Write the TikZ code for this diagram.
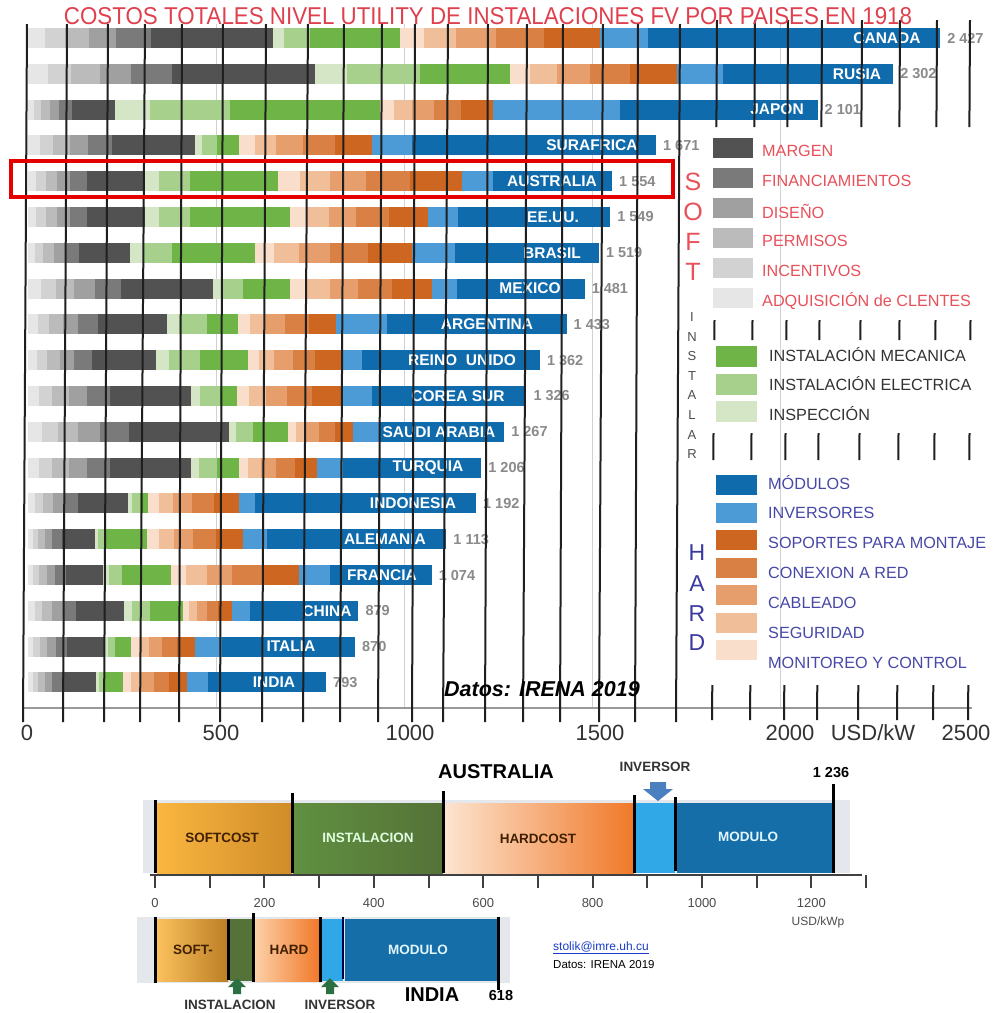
\documentclass[tikz,border=0pt]{standalone}
\usepackage{fontspec}
\setmainfont{Liberation Sans}
\usepackage{graphicx}
\definecolor{ga}{HTML}{E6E6E6}
\definecolor{gb}{HTML}{D2D2D2}
\definecolor{gc}{HTML}{BBBBBB}
\definecolor{gd}{HTML}{A0A0A0}
\definecolor{ge}{HTML}{7A7A7A}
\definecolor{gf}{HTML}{525252}
\definecolor{gpale}{HTML}{D5E6C6}
\definecolor{glight}{HTML}{A8D08D}
\definecolor{gmid}{HTML}{6FB446}
\definecolor{oa}{HTML}{F9DFCB}
\definecolor{ob}{HTML}{F0BE98}
\definecolor{oc}{HTML}{E59E6C}
\definecolor{od}{HTML}{D98044}
\definecolor{oe}{HTML}{CC6620}
\definecolor{binv}{HTML}{4C9BD6}
\definecolor{bmod}{HTML}{106BAC}
\definecolor{titred}{HTML}{E0404E}
\definecolor{legred}{HTML}{E8505A}
\definecolor{legblue}{HTML}{4848A8}
\definecolor{hardblue}{HTML}{3A3AA0}
\definecolor{valgray}{HTML}{8A8A8A}
\definecolor{bgstrip}{HTML}{E4E7EB}
\definecolor{softA}{HTML}{FAB640}
\definecolor{softB}{HTML}{D08C28}
\definecolor{instA}{HTML}{609040}
\definecolor{instB}{HTML}{557238}
\definecolor{hardA}{HTML}{FCE4D0}
\definecolor{hardB}{HTML}{F07828}
\definecolor{invB}{HTML}{30A8E8}
\definecolor{modB}{HTML}{156EA8}
\definecolor{arrblue}{HTML}{4A80C0}
\definecolor{arrgreen}{HTML}{2A7040}
\definecolor{mailblue}{HTML}{1A3CC8}
\newcommand\cbar[7]{%
 \pgfmathsetmacro\cya{#1-10}%
 \pgfmathsetmacro\cyb{#1+10}%
 \pgfmathsetmacro\cgw{#2-28}%
 \pgfmathsetmacro\cT{28+0.3758*#7}%
 \pgfmathsetmacro\cgl{#2+0.3*(#3-#2)}%
 \pgfmathsetmacro\cow{#5-#4}%
 \fill[ga] (28,\cya) rectangle ({28+0.07*\cgw},\cyb);
 \fill[gb] ({28+0.07*\cgw},\cya) rectangle ({28+0.15*\cgw},\cyb);
 \fill[gc] ({28+0.15*\cgw},\cya) rectangle ({28+0.25*\cgw},\cyb);
 \fill[gd] ({28+0.25*\cgw},\cya) rectangle ({28+0.36*\cgw},\cyb);
 \fill[ge] ({28+0.36*\cgw},\cya) rectangle ({28+0.50*\cgw},\cyb);
 \fill[gf] ({28+0.50*\cgw},\cya) rectangle (#2,\cyb);
 \fill[gpale] (#2,\cya) rectangle (\cgl,\cyb);
 \fill[glight] (\cgl,\cya) rectangle (#3,\cyb);
 \fill[gmid] (#3,\cya) rectangle (#4,\cyb);
 \fill[oa] (#4,\cya) rectangle ({#4+0.12*\cow},\cyb);
 \fill[ob] ({#4+0.12*\cow},\cya) rectangle ({#4+0.28*\cow},\cyb);
 \fill[oc] ({#4+0.28*\cow},\cya) rectangle ({#4+0.48*\cow},\cyb);
 \fill[od] ({#4+0.48*\cow},\cya) rectangle ({#4+0.72*\cow},\cyb);
 \fill[oe] ({#4+0.72*\cow},\cya) rectangle (#5,\cyb);
 \fill[binv] (#5,\cya) rectangle (#6,\cyb);
 \fill[bmod] (#6,\cya) rectangle (\cT,\cyb);
}
\tikzset{
 cl/.style={font=\fontsize{15.5}{18}\selectfont\bfseries, text=white, inner sep=0pt},
 vl/.style={font=\fontsize{14.5}{17}\selectfont\bfseries, text=valgray, anchor=west, inner sep=0pt},
 gl/.style={line width=2pt, black!88},
 axl/.style={font=\fontsize{22}{26}\selectfont, text=black!80, inner sep=0pt},
 lr/.style={font=\fontsize{16.2}{19}\selectfont, text=legred, anchor=west, inner sep=0pt},
 lg/.style={font=\fontsize{16.2}{19}\selectfont, text=black!80, anchor=west, inner sep=0pt},
 lb/.style={font=\fontsize{16.2}{19}\selectfont, text=legblue, anchor=west, inner sep=0pt},
 softl/.style={font=\fontsize{25}{28}\selectfont, text=legred, inner sep=0pt},
 hardl/.style={font=\fontsize{23}{26}\selectfont, text=hardblue, inner sep=0pt},
 instl/.style={font=\fontsize{13}{15}\selectfont, text=black!70, inner sep=0pt},
 sep/.style={line width=3pt, black},
 bt/.style={font=\fontsize{13.5}{16}\selectfont\bfseries, inner sep=0pt},
 bax/.style={font=\fontsize{13}{15}\selectfont, text=black!70, inner sep=0pt},
}
\begin{document}
\begin{tikzpicture}[x=1pt,y=-1pt]
\useasboundingbox (0,0) rectangle (1001,1013);
\fill[white] (0,0) rectangle (1001,1013);
% faint original gridlines
\foreach \gx in {216,404,592,780} \draw[line width=0.6pt, black!18] (\gx,24) -- (\gx,707);
% bars
\cbar{38}{273}{310}{400}{600}{648}{2427}
\cbar{73.8}{315}{420}{510}{677}{723}{2302}
\cbar{109.6}{115}{230}{380}{493}{620}{2101}
\cbar{145.4}{195}{217}{239}{372}{412}{1671}
\cbar{181.2}{145}{190}{278}{462}{493}{1554}
\cbar{217}{145}{190}{290}{428}{458}{1549}
\cbar{252.8}{130}{172}{255}{412}{455}{1519}
\cbar{288.6}{213}{243}{290}{432}{457}{1481}
\cbar{324.4}{167}{207}{238}{336}{387}{1433}
\cbar{360.2}{156}{200}{248}{341}{362}{1362}
\cbar{396}{191}{220}{237}{341}{372}{1326}
\cbar{431.8}{229}{253}{288}{353}{380}{1267}
\cbar{467.6}{191}{217}{239}{317}{343}{1206}
\cbar{503.4}{128}{140}{148}{239}{255}{1192}
\cbar{539.2}{95}{105}{147}{243}{267}{1113}
\cbar{575}{103}{122}{171}{299}{330}{1074}
\cbar{610.8}{124}{150}{183}{232}{250}{879}
\cbar{646.6}{105}{115}{131}{195}{222}{870}
\cbar{682.4}{96}{105}{123}{187}{208}{793}
% country labels
\node[cl] (n1) at (887,38) {CANADA};
\node[cl] (n2) at (857,73.8) {RUSIA};
\node[cl] (n3) at (777,109.6) {JAPON};
\node[cl] (n4) at (592,145.4) {SURAFRICA};
\node[cl] (n5) at (552,181.2) {AUSTRALIA};
\node[cl] (n6) at (553,217) {EE.UU.};
\node[cl] (n7) at (552,252.8) {BRASIL};
\node[cl] (n8) at (530,288.6) {MEXICO};
\node[cl] (n9) at (487,324.4) {ARGENTINA};
\node[cl] (n10) at (462,360.2) {REINO\ \ UNIDO};
\node[cl] (n11) at (458,396) {COREA SUR};
\node[cl] (n12) at (439,431.8) {SAUDI ARABIA};
\node[cl] (n13) at (428,467.6) {TURQUIA};
\node[cl] (n14) at (413,503.4) {INDONESIA};
\node[cl] (n15) at (385,539.2) {ALEMANIA};
\node[cl] (n16) at (382,575) {FRANCIA};
\node[cl] (n17) at (327,610.8) {CHINA};
\node[cl] (n18) at (291,646.6) {ITALIA};
\node[cl] (n19) at (274,682.4) {INDIA};
% value labels
\node[vl] (v1) at ({28+0.3758*2427+7},38) {2 427};
\node[vl] (v2) at ({28+0.3758*2302+7},73.8) {2 302};
\node[vl] (v3) at ({28+0.3758*2101+7},109.6) {2 101};
\node[vl] (v4) at ({28+0.3758*1671+7},145.4) {1 671};
\node[vl] (v5) at ({28+0.3758*1554+7},181.2) {1 554};
\node[vl] (v6) at ({28+0.3758*1549+7},217) {1 549};
\node[vl] (v7) at ({28+0.3758*1519+7},252.8) {1 519};
\node[vl] (v8) at ({28+0.3758*1481+7},288.6) {1 481};
\node[vl] (v9) at ({28+0.3758*1433+7},324.4) {1 433};
\node[vl] (v10) at ({28+0.3758*1362+7},360.2) {1 362};
\node[vl] (v11) at ({28+0.3758*1326+7},396) {1 326};
\node[vl] (v12) at ({28+0.3758*1267+7},431.8) {1 267};
\node[vl] (v13) at ({28+0.3758*1206+7},467.6) {1 206};
\node[vl] (v14) at ({28+0.3758*1192+7},503.4) {1 192};
\node[vl] (v15) at ({28+0.3758*1113+7},539.2) {1 113};
\node[vl] (v16) at ({28+0.3758*1074+7},575) {1 074};
\node[vl] (v17) at ({28+0.3758*879+7},610.8) {879};
\node[vl] (v18) at ({28+0.3758*870+7},646.6) {870};
\node[vl] (v19) at ({28+0.3758*793+7},682.4) {793};
% axis
\draw[line width=1.3pt, black!40] (23,708) -- (972,708);
\node[axl] (a0) at (27,733) {0};
\node[axl] (a500) at (221,733) {500};
\node[axl] (a1000) at (410,733) {1000};
\node[axl] (a1500) at (600,733) {1500};
\node[axl] (a2000) at (790,733) {2000};
\node[axl] (aunit) at (873,733) {USD/kW};
\node[axl] (a2500) at (966,733) {2500};
% black grid lines
\foreach \xt/\xb in {27/23,67/63,108/104,145/140,182/179,223/220,266/262,308/303,344/340,382/378,415/412,448/443,488/485,527/523,563/560,603/599,638/635,680/676}
  \draw[gl] (\xt,24) -- (\xb,722);
\foreach \xt/\xb in {717/712,755/750,788/784,822/817,862/858,900/897,937/933,970/968} {
  \draw[gl] (\xt,20) -- (\xt-0.6,127);
  \draw[gl] (\xb+2.5,320) -- (\xb+2.4,340);
  \draw[gl] (\xb+1.5,433) -- (\xb+1.4,460);
  \draw[gl] (\xb+0.3,685) -- (\xb,720);
}
% title
\node[inner sep=0pt] (title) at (488,16) {\resizebox{848pt}{17pt}{\color{titred}COSTOS TOTALES NIVEL UTILITY DE INSTALACIONES FV POR PAISES EN 1918}};
% highlight box
\draw[line width=4pt, red!90!black] (11,161) rectangle (673,197);
% Datos
\node[anchor=west, inner sep=0pt, font=\fontsize{21.5}{25}\selectfont\bfseries\itshape] (datos) at (444,689) {Datos: IRENA 2019};
% legend SOFT
\node[softl] (s1) at (693,182) {S};
\node[softl] (s2) at (693,212) {O};
\node[softl] (s3) at (693,242) {F};
\node[softl] (s4) at (693,272) {T};
\fill[gf] (713,138) rectangle (753,158);
\fill[ge] (713,168) rectangle (753,188);
\fill[gd] (713,198) rectangle (753,218);
\fill[gc] (713,228) rectangle (753,248);
\fill[gb] (713,258) rectangle (753,278);
\fill[ga] (713,288) rectangle (753,308);
\node[lr] (l1) at (762,151) {MARGEN};
\node[lr] (l2) at (762,181) {FINANCIAMIENTOS};
\node[lr] (l3) at (762,211) {DISEÑO};
\node[lr] (l4) at (762,241) {PERMISOS};
\node[lr] (l5) at (762,271) {INCENTIVOS};
\node[lr] (l6) at (762,301) {ADQUISICIÓN de CLENTES};
% legend INSTALAR
\foreach \ch [count=\k from 0] in {I,N,S,T,A,L,A,R}
  \node[instl] (i\k) at (692,{317+19.6*\k}) {\ch};
\fill[gmid] (716,346) rectangle (757,367);
\fill[glight] (716,374) rectangle (757,395);
\fill[gpale] (716,401) rectangle (757,422);
\node[lg] (g1) at (769,355) {INSTALACIÓN MECANICA};
\node[lg] (g2) at (769,384) {INSTALACIÓN ELECTRICA};
\node[lg] (g3) at (769,414) {INSPECCIÓN};
% legend HARD
\node[hardl] (h1) at (697,553) {H};
\node[hardl] (h2) at (697,584) {A};
\node[hardl] (h3) at (697,614) {R};
\node[hardl] (h4) at (697,643) {D};
\fill[bmod] (716,475) rectangle (757,495);
\fill[binv] (716,503) rectangle (757,523);
\fill[oe] (716,530) rectangle (757,550);
\fill[od] (716,558) rectangle (757,578);
\fill[oc] (716,585) rectangle (757,605);
\fill[ob] (716,613) rectangle (757,633);
\fill[oa] (716,640) rectangle (757,660);
\node[lb] (b1) at (768,483) {MÓDULOS};
\node[lb] (b2) at (768,513) {INVERSORES};
\node[lb] (b3) at (768,543) {SOPORTES PARA MONTAJE};
\node[lb] (b4) at (768,573) {CONEXION A RED};
\node[lb] (b5) at (768,603) {CABLEADO};
\node[lb] (b6) at (768,633) {SEGURIDAD};
\node[lb] (b7) at (768,663) {MONITOREO Y CONTROL};
% ===== Australia bottom chart =====
\node[font=\fontsize{20}{24}\selectfont\bfseries, inner sep=0pt] (aut) at (496,772) {AUSTRALIA};
\fill[bgstrip] (143,800) rectangle (850,873);
\shade[left color=softA, right color=softB] (157,803) rectangle (292,873);
\shade[left color=instA, right color=instB] (293,803) rectangle (443,873);
\shade[left color=hardA, right color=hardB] (445,803) rectangle (634,873);
\fill[invB] (636,803) rectangle (675,873);
\fill[modB] (677,803) rectangle (833,873);
\draw[sep] (155,800) -- (155,873);
\draw[sep] (292,793) -- (292,873);
\draw[sep] (443,791) -- (443,873);
\draw[sep] (634,795) -- (634,873);
\draw[sep] (675,797) -- (675,871);
\draw[sep] (833,784) -- (833,873);
\node[bt, text=black!75!orange] (ausoft) at (222,838) {SOFTCOST};
\node[bt, text=green!12!white] (auinst) at (368,838) {INSTALACION};
\node[bt, text=black!75!orange] (auhard) at (538,839) {HARDCOST};
\node[bt, text=cyan!12!white] (aumod) at (748,837) {MODULO};
\node[bt, text=black!80] (auinv) at (655,767) {INVERSOR};
\node[font=\fontsize{14.5}{17}\selectfont\bfseries, inner sep=0pt] (autot) at (831,773) {1 236};
\fill[arrblue] (650,782) -- (666,782) -- (666,789) -- (673,789) -- (658,801) -- (643,789) -- (650,789) -- cycle;
\draw[line width=1.5pt, black!75] (150,875) -- (862,875);
\foreach \k in {0,...,13} \draw[line width=2pt, black!75] ({155+54.7*\k},875) -- ({155+54.7*\k},888);
\foreach \v [count=\k from 0] in {0,200,400,600,800,1000,1200}
  \node[bax] (bx\k) at ({155+109.4*\k},903) {\v};
\node[bax, font=\fontsize{12}{14}\selectfont] (bunit) at (818,922) {USD/kWp};
% ===== India bottom chart =====
\fill[bgstrip] (137,917) rectangle (510,983);
\shade[left color=softA!85!white, right color=softB!90!black] (157,919) rectangle (228,981);
\fill[instB] (230,919) rectangle (253,981);
\shade[left color=hardA!80!orange, right color=hardB] (255,919) rectangle (320,981);
\fill[invB] (322,919) rectangle (343,981);
\fill[modB] (345,919) rectangle (498,981);
\draw[sep] (155,917) -- (155,983);
\draw[sep] (228,919) -- (228,980);
\draw[sep] (253,913) -- (253,982);
\draw[sep] (320,917) -- (320,982);
\draw[line width=2.5pt, blue!30!black] (343,917) -- (343,979);
\draw[sep] (498,917) -- (498,990);
\node[bt, text=black!75!orange] (insoft) at (193,950) {SOFT-};
\node[bt, text=black!75!orange] (inhard) at (289,950) {HARD};
\node[bt, text=cyan!12!white] (inmod) at (418,950) {MODULO};
\fill[arrgreen] (237,978) -- (246,987) -- (241,987) -- (241,994) -- (233,994) -- (233,987) -- (228,987) -- cycle;
\fill[arrgreen] (330,978) -- (339,987) -- (334,987) -- (334,994) -- (326,994) -- (326,987) -- (321,987) -- cycle;
\node[bt, text=black!80] (ininst) at (230,1005) {INSTALACION};
\node[bt, text=black!80] (ininv) at (340,1005) {INVERSOR};
\node[font=\fontsize{20}{24}\selectfont\bfseries, inner sep=0pt] (inname) at (432,995) {INDIA};
\node[font=\fontsize{14.5}{17}\selectfont\bfseries, inner sep=0pt] (intot) at (501,995) {618};
% contact
\node[anchor=west, inner sep=0pt, font=\fontsize{12}{14}\selectfont, text=mailblue] (mail) at (553,948) {\underline{stolik@imre.uh.cu}};
\node[anchor=west, inner sep=0pt, font=\fontsize{11.5}{14}\selectfont] (src) at (553,965) {Datos: IRENA 2019};
\end{tikzpicture}
\end{document}
